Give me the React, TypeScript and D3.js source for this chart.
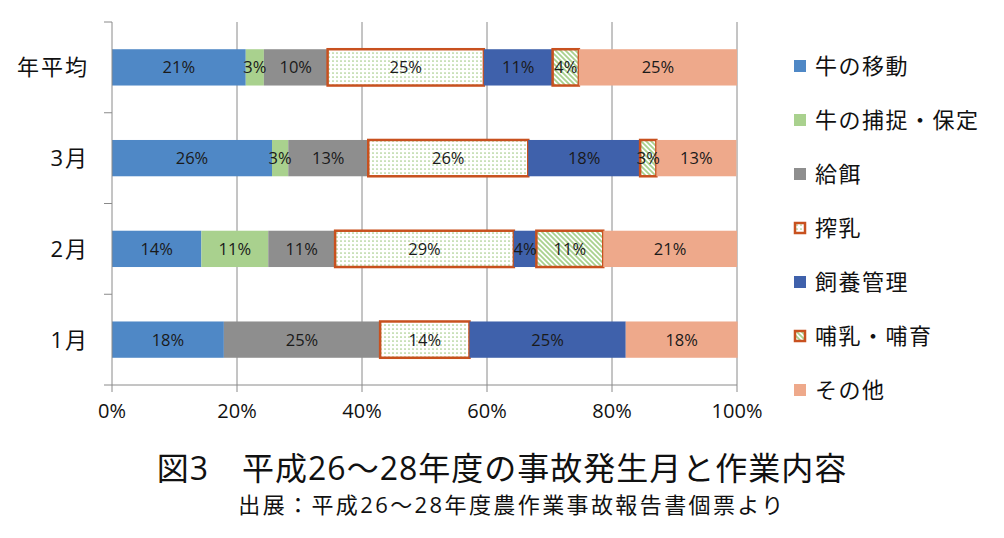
import React from "react";
import * as d3 from "d3";

const categories = ["年平均", "3月", "2月", "1月"];
const seriesNames = ["牛の移動", "牛の捕捉・保定", "給餌", "搾乳", "飼養管理", "哺乳・哺育", "その他"];
const moveCow = [21.4, 25.6, 14.3, 17.9];
const catchCow = [2.9, 2.6, 10.7, 0];
const feeding = [10.2, 12.8, 10.7, 25.0];
const milking = [25.0, 25.6, 28.6, 14.3];
const husbandry = [11.0, 17.9, 3.6, 25.0];
const nursing = [4.2, 2.6, 10.7, 0];
const other = [25.3, 12.8, 21.4, 17.9];
const xTicks = [0, 20, 40, 60, 80, 100];
const title = "図3　平成26～28年度の事故発生月と作業内容";
const subtitle = "出展：平成26～28年度農作業事故報告書個票より";

const seriesValues = [moveCow, catchCow, feeding, milking, husbandry, nursing, other];
const fills = ["#4f88c6", "#a9d18e", "#8e8e8e", "url(#dots)", "#3f61ab", "url(#stripes)", "#eea98b"];
const strokes = [null, null, null, "#c8511f", null, "#c8511f", null];

const FONT = "'Open Sans','Noto Sans CJK JP',sans-serif";
const JFONT = "'Noto Sans CJK JP',sans-serif";

export default function App() {
  const x = d3.scaleLinear().domain([0, 100]).range([112, 737]);
  const y = d3.scaleBand<string>().domain(categories).range([22, 385]).paddingInner(0.6).paddingOuter(0.3);
  const rows = categories.map((c, i) => {
    const r: any = { cat: c };
    seriesNames.forEach((s, k) => (r[s] = seriesValues[k][i]));
    return r;
  });
  const stacked = d3.stack<any>().keys(seriesNames)(rows);
  const step = y.step();
  const bandEdges = d3.range(categories.length + 1).map((i) => 22 + i * step);

  return (
    <div style={{ position: "absolute", left: 0, top: 0 }}>
      <svg width={1004} height={538} style={{ display: "block", background: "#fff" }}>
        <defs>
          <pattern id="dots" width={4} height={4} patternUnits="userSpaceOnUse">
            <rect width={4} height={4} fill="#fff" />
            <circle cx={1} cy={1} r={0.85} fill="#9fc983" />
          </pattern>
          <pattern id="stripes" width={5} height={5} patternUnits="userSpaceOnUse">
            <rect width={5} height={5} fill="#fff" />
            <path d="M0,0 L5,5 M-1,4 L1,6 M4,-1 L6,1" stroke="#a9d18e" strokeWidth={1.8} />
          </pattern>
        </defs>
        {xTicks.slice(1).map((t) => (
          <line key={t} x1={x(t)} x2={x(t)} y1={22} y2={385} stroke="#8a8a8a" strokeWidth={1} />
        ))}
        {stacked.map((layer, k) =>
          layer.map((d, i) => {
            const w = x(d[1]) - x(d[0]);
            if (w <= 0) return null;
            return (
              <rect
                key={`${k}-${i}`}
                x={x(d[0])}
                y={y(categories[i])!}
                width={w}
                height={y.bandwidth()}
                fill={fills[k]}
                stroke={strokes[k] || "none"}
                strokeWidth={strokes[k] ? 2.5 : 0}
              />
            );
          })
        )}
        <line x1={112} x2={112} y1={22} y2={385} stroke="#8a8a8a" />
        <line x1={112} x2={737} y1={385} y2={385} stroke="#8a8a8a" />
        {bandEdges.map((e, i) => (
          <line key={i} x1={104} x2={112} y1={e} y2={e} stroke="#8a8a8a" />
        ))}
        {xTicks.map((t) => (
          <line key={t} x1={x(t)} x2={x(t)} y1={385} y2={392} stroke="#8a8a8a" />
        ))}
        {xTicks.map((t) => (
          <text key={t} x={x(t)} y={418} textAnchor="middle" fontFamily={FONT} fontSize={20} fill="#111">
            {t}%
          </text>
        ))}
        {categories.map((c) => (
          <text key={c} x={89} y={y(c)! + y.bandwidth() / 2 + 8} textAnchor="end" fontFamily={FONT} fontSize={22} letterSpacing={2} fill="#111">
            {c}
          </text>
        ))}
        {stacked.map((layer, k) =>
          layer.map((d, i) => {
            const v = Math.round(d[1] - d[0]);
            if (v <= 0) return null;
            return (
              <text
                key={`l${k}-${i}`}
                x={(x(d[0]) + x(d[1])) / 2}
                y={y(categories[i])! + y.bandwidth() / 2 + 6}
                textAnchor="middle"
                fontFamily={FONT}
                fontSize={16.5}
                fill="#1a1a1a"
              >
                {v}%
              </text>
            );
          })
        )}
        {seriesNames.map((s, k) => {
          const cy = 66 + k * 54;
          return (
            <g key={s}>
              <rect
                x={strokes[k] ? 795 : 794}
                y={strokes[k] ? cy - 5 : cy - 6}
                width={strokes[k] ? 10 : 12}
                height={strokes[k] ? 10 : 12}
                fill={fills[k]}
                stroke={strokes[k] || "none"}
                strokeWidth={strokes[k] ? 2.5 : 0}
              />
              <text x={815} y={cy + 8} fontFamily={JFONT} fontSize={22} letterSpacing={1.5} fill="#111">
                {s}
              </text>
            </g>
          );
        })}
        <text x={502} y={480} textAnchor="middle" fontFamily={FONT} fontSize={32} letterSpacing={1} fill="#111">
          {title}
        </text>
        <text x={512} y={513} textAnchor="middle" fontFamily={FONT} fontSize={22} letterSpacing={2.4} fill="#111">
          {subtitle}
        </text>
      </svg>
    </div>
  );
}
